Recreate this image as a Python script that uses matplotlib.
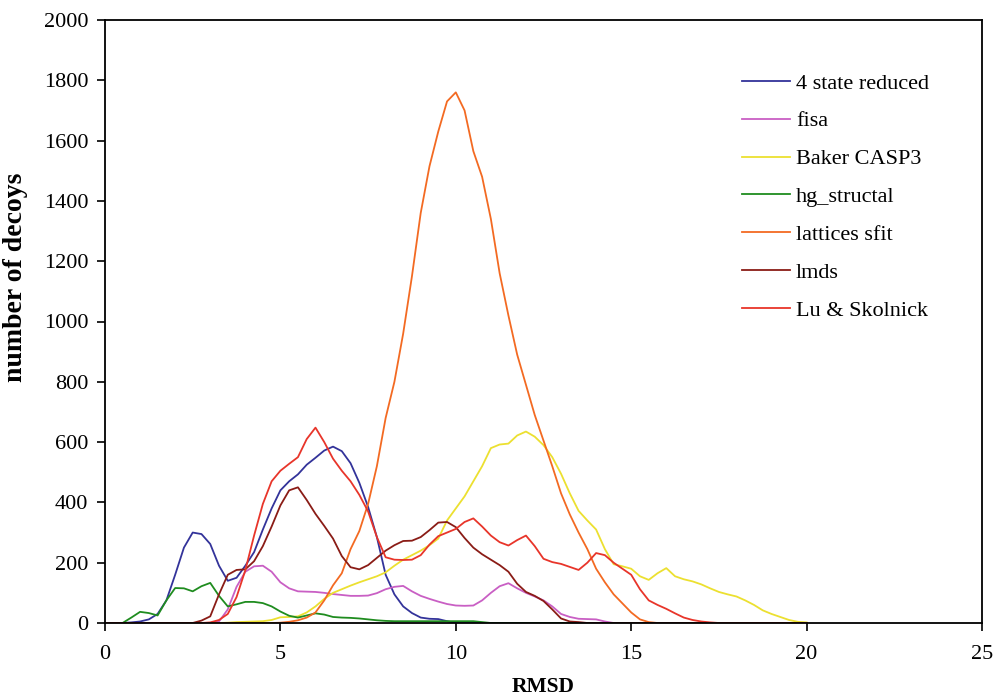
import numpy as np
import matplotlib.pyplot as plt

# RMSD bins (0.25 step, 0..20)
rmsd = np.arange(0, 20.01, 0.25)

state4_reduced = [0, 0, 0, 2, 5, 12, 30, 75, 160, 250, 300, 295, 262, 190, 140, 150,
                  190, 235, 310, 380, 440, 470, 493, 525, 548, 572, 585, 570, 530, 465,
                  385, 285, 160, 95, 55, 33, 18, 14, 13, 6, 0]
fisa = [0] * 13 + [5, 45, 120, 170, 188, 190, 170, 135, 115, 105, 104, 103, 100, 96, 93,
                   90, 90, 91, 99, 112, 120, 123, 105, 90, 80, 71, 63, 58, 57, 58, 75, 100,
                   122, 132, 115, 100, 88, 75, 55, 30, 20, 14, 13, 12, 5, 0]
baker_casp3 = [0] * 14 + [1, 3, 4, 5, 6, 10, 19, 20, 22, 35, 55, 80, 100, 112, 124, 135,
                          145, 155, 168, 190, 210, 225, 240, 258, 280, 340, 380, 420, 470,
                          520, 580, 592, 595, 622, 635, 618, 590, 550, 495, 430, 372, 340,
                          310, 245, 195, 188, 180, 155, 143, 165, 182, 155, 145, 138, 128,
                          115, 103, 95, 88, 75, 60, 42, 30, 20, 10, 4, 2]
hg_structal = [0, 0, 0, 18, 37, 33, 25, 75, 116, 115, 105, 122, 133, 90, 55, 62, 70, 70,
               66, 55, 38, 24, 18, 25, 32, 28, 20, 18, 17, 15, 12, 9, 7, 6, 6, 6, 6, 6, 6,
               6, 6, 6, 6, 3, 0]
lattices_sfit = [0] * 20 + [1, 4, 9, 18, 35, 75, 125, 165, 245, 305, 395, 520, 680, 800,
                            960, 1150, 1360, 1515, 1630, 1730, 1760, 1700, 1565, 1480, 1340,
                            1160, 1020, 890, 790, 690, 605, 520, 430, 360, 300, 245, 180,
                            135, 95, 65, 35, 12, 3, 0]
lmds = [0] * 11 + [8, 22, 95, 160, 176, 178, 205, 255, 320, 390, 440, 450, 408, 362, 322,
                   280, 222, 185, 178, 192, 216, 240, 258, 272, 273, 285, 308, 333, 335,
                   318, 282, 250, 228, 210, 192, 170, 130, 103, 90, 73, 45, 15, 5, 3, 0]
lu_skolnick = [0] * 12 + [2, 10, 30, 86, 175, 290, 395, 470, 505, 528, 550, 610, 648, 600,
                          545, 505, 470, 425, 370, 285, 218, 210, 209, 210, 225, 260, 288,
                          300, 312, 335, 347, 320, 290, 268, 257, 275, 290, 255, 213, 202,
                          196, 186, 176, 200, 232, 225, 200, 180, 160, 112, 75, 60, 47, 32,
                          18, 10, 5, 2, 0]

series = [
    ("4 state reduced", state4_reduced, "#33339a"),
    ("fisa", fisa, "#c95fc4"),
    ("Baker CASP3", baker_casp3, "#ece030"),
    ("hg_structal", hg_structal, "#1f8c1f"),
    ("lattices sfit", lattices_sfit, "#f36a22"),
    ("lmds", lmds, "#8a1c16"),
    ("Lu & Skolnick", lu_skolnick, "#e8352a"),
]

plt.rcParams['font.family'] = ['Liberation Serif', 'DejaVu Serif']

fig = plt.figure(figsize=(9.95, 6.97), dpi=100)
ax = fig.add_axes([105 / 995, 74 / 697, 877 / 995, 603 / 697])

for name, vals, col in series:
    y = np.zeros(len(rmsd))
    y[:len(vals)] = vals
    ax.plot(rmsd, y, color=col, lw=1.3, label=name)

ax.set_xlim(0, 25)
ax.set_ylim(0, 2000)
ax.set_xticks(range(0, 26, 5))
ax.set_yticks(range(0, 2001, 200))
ax.tick_params(direction='out', length=6, width=1.2, labelsize=16, pad=6)
ax.tick_params(axis='x', pad=10)
for s in ax.spines.values():
    s.set_linewidth(1.3)
    s.set_color('black')

ax.set_xlabel('RMSD', fontsize=15.5, fontweight='bold')
ax.xaxis.set_label_coords(0.5, -0.09)
ax.set_ylabel('number of decoys', fontsize=20, fontweight='bold')
ax.yaxis.set_label_coords(-0.088, 0.574)

ax.legend(loc='upper left', bbox_to_anchor=(742 / 995, 1 - 73 / 697),
          bbox_transform=fig.transFigure, frameon=False, fontsize=16,
          handlelength=2.15, handletextpad=0.27, labelspacing=0.78,
          borderpad=0, borderaxespad=0)

fig.savefig('out.png', dpi=100)
